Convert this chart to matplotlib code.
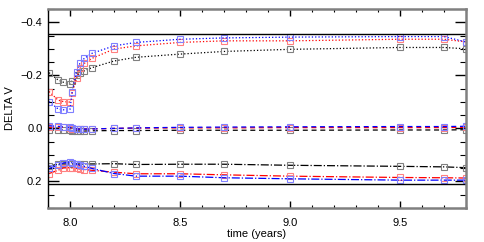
import matplotlib
matplotlib.use("Agg")
import matplotlib.pyplot as plt
from matplotlib.ticker import MultipleLocator, FuncFormatter

plt.rcParams['font.family'] = ['Liberation Sans', 'DejaVu Sans']

# sample times (years)
t = [7.905, 7.945, 7.97, 8.0, 8.01, 8.03, 8.045, 8.065, 8.10, 8.20, 8.30,
     8.50, 8.70, 9.00, 9.50, 9.70, 9.80]

# upper group (dotted)
up_black = [-0.21, -0.183, -0.174, -0.168, -0.18, -0.20, -0.207, -0.217, -0.229,
            -0.254, -0.268, -0.28, -0.29, -0.298, -0.305, -0.305, -0.30]
up_red = [-0.139, -0.107, -0.101, -0.099, -0.135, -0.189, -0.226, -0.245, -0.264,
          -0.299, -0.311, -0.324, -0.33, -0.33, -0.336, -0.336, -0.326]
up_blue = [-0.101, -0.074, -0.07, -0.072, -0.139, -0.214, -0.245, -0.264, -0.283,
           -0.311, -0.324, -0.336, -0.341, -0.344, -0.346, -0.346, -0.326]

# middle group (dashed)
mid_black = [0.006, 0.006, 0.006, 0.007, 0.008, 0.009, 0.010, 0.010, 0.009,
             0.008, 0.008, 0.007, 0.007, 0.007, 0.006, 0.006, 0.005]
mid_red = [-0.004, -0.005, -0.004, -0.002, 0.001, 0.003, 0.003, 0.003, 0.002,
           0.0, -0.001, -0.002, -0.002, -0.003, -0.003, -0.003, -0.004]
mid_blue = [-0.010, -0.008, -0.006, -0.004, 0.0, 0.002, 0.003, 0.003, 0.002,
            0.0, -0.002, -0.004, -0.005, -0.006, -0.007, -0.007, -0.008]

# lower group (dash-dot)
lo_black = [0.143, 0.134, 0.134, 0.134, 0.134, 0.134, 0.134, 0.134, 0.134,
            0.133, 0.136, 0.135, 0.135, 0.139, 0.143, 0.145, 0.148]
lo_red = [0.170, 0.158, 0.149, 0.148, 0.149, 0.151, 0.153, 0.155, 0.158,
          0.165, 0.171, 0.171, 0.175, 0.180, 0.185, 0.186, 0.187]
lo_blue = [0.151, 0.139, 0.130, 0.127, 0.130, 0.134, 0.139, 0.143, 0.151,
           0.170, 0.180, 0.180, 0.186, 0.190, 0.195, 0.195, 0.195]

limits = [-0.357, 0.21]


def fmt(v, pos):
    s = f'{v:.1f}'
    if s == '-0.0':
        s = '0.0'
    return s.replace('-', '\u2212')


fig = plt.figure(figsize=(4.85, 2.42), dpi=100)
ax = fig.add_axes([48 / 485, 34 / 242, 418 / 485, 199 / 242])

series = [
    (up_black, 'black', '#808080', ':'),
    (up_red, 'red', '#ff8080', ':'),
    (up_blue, 'blue', '#8080ff', ':'),
    (mid_black, 'black', '#808080', (0, (4, 3))),
    (mid_red, 'red', '#ff8080', (0, (4, 3))),
    (mid_blue, 'blue', '#8080ff', (0, (4, 3))),
    (lo_black, 'black', '#808080', '-.'),
    (lo_red, 'red', '#ff8080', '-.'),
    (lo_blue, 'blue', '#8080ff', '-.'),
]
for vals, lc, mc, ls in series:
    ax.plot(t, vals, color=lc, linestyle=ls, linewidth=0.9)
    ax.plot(t, vals, linestyle='none', marker='s', markersize=4,
            markerfacecolor='none', markeredgecolor=mc, markeredgewidth=0.8)

for y in limits:
    ax.axhline(y, color='black', linewidth=1.0)

ax.set_xlim(7.9, 9.8)
ax.set_ylim(0.3, -0.45)
ax.xaxis.set_major_locator(MultipleLocator(0.5))
ax.xaxis.set_minor_locator(MultipleLocator(0.1))
ax.yaxis.set_major_locator(MultipleLocator(0.2))
ax.yaxis.set_minor_locator(MultipleLocator(0.05))
ax.xaxis.set_major_formatter(FuncFormatter(fmt))
ax.yaxis.set_major_formatter(FuncFormatter(fmt))

ax.tick_params(which='both', direction='in', top=True, right=True,
               labelsize=8, color='black')
ax.tick_params(axis='y', which='major', length=8, width=1, pad=4)
ax.tick_params(axis='y', which='minor', length=4, width=0.8)
ax.tick_params(axis='x', which='major', length=5, width=1, pad=7)
ax.tick_params(axis='x', which='minor', length=2.5, width=0.8)

for side in ['top', 'right', 'bottom']:
    ax.spines[side].set_color('#808080')
    ax.spines[side].set_linewidth(1.8)
ax.spines['left'].set_color('black')
ax.spines['left'].set_linewidth(1.0)

ax.set_xlabel('time (years)', fontsize=8, labelpad=1)
ax.set_ylabel('DELTA V', fontsize=8, labelpad=4)

fig.savefig('out.png', dpi=100)
